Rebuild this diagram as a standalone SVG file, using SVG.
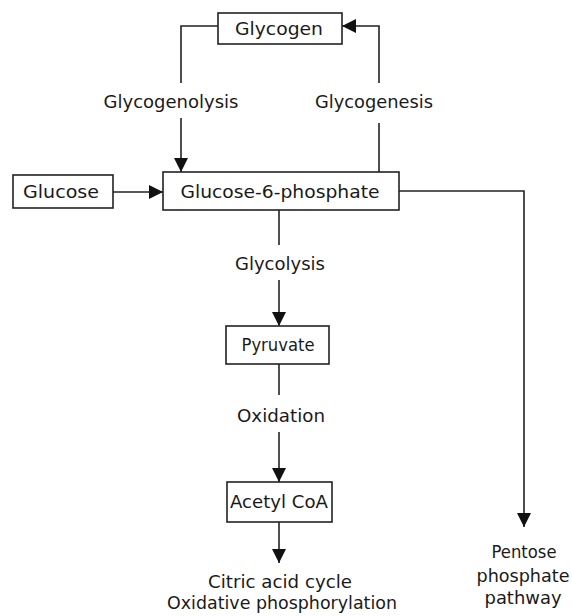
<svg xmlns="http://www.w3.org/2000/svg" width="572" height="616" viewBox="0 0 572 616">
<style>
.box{fill:#fff;stroke:#222;stroke-width:1.6}
.ln{fill:none;stroke:#222;stroke-width:1.6}
text{font-family:"DejaVu Sans","Liberation Sans",sans-serif;font-size:17.5px;fill:#1a1a1a;text-anchor:middle}
</style>
<defs>
<marker id="ah" markerUnits="userSpaceOnUse" markerWidth="14" markerHeight="14" refX="14" refY="7" orient="auto">
<path d="M0,0 L14,7 L0,14 z" fill="#111"/>
</marker>
</defs>
<rect width="572" height="616" fill="#fff"/>
<g id="connectors">
<path class="ln" d="M218,26 H181 V83"/>
<path class="ln" d="M181,118 V172" marker-end="url(#ah)"/>
<path class="ln" d="M379,172 V123"/>
<path class="ln" d="M379,83 V26 H342" marker-end="url(#ah)"/>
<path class="ln" d="M113,192 H163" marker-end="url(#ah)"/>
<path class="ln" d="M399,191 H524 V527" marker-end="url(#ah)"/>
<path class="ln" d="M279,210 V245"/>
<path class="ln" d="M279,280 V326" marker-end="url(#ah)"/>
<path class="ln" d="M279,364 V395"/>
<path class="ln" d="M279,432 V482" marker-end="url(#ah)"/>
<path class="ln" d="M279,522 V563" marker-end="url(#ah)"/>
<text x="171" y="108" textLength="135" lengthAdjust="spacingAndGlyphs">Glycogenolysis</text>
<text x="374" y="108" textLength="118" lengthAdjust="spacingAndGlyphs">Glycogenesis</text>
<text x="280" y="270" textLength="90" lengthAdjust="spacingAndGlyphs">Glycolysis</text>
<text x="281" y="422" textLength="88" lengthAdjust="spacingAndGlyphs">Oxidation</text>
</g>
<g id="glycogen">
<rect class="box" x="218" y="13" width="124" height="31"/>
<text x="279" y="35" textLength="88" lengthAdjust="spacingAndGlyphs">Glycogen</text>
</g>
<g id="glucose">
<rect class="box" x="13" y="175" width="100" height="33"/>
<text x="61" y="198" textLength="76" lengthAdjust="spacingAndGlyphs">Glucose</text>
</g>
<g id="g6p">
<rect class="box" x="163" y="172" width="236" height="38"/>
<text x="280" y="198" textLength="199" lengthAdjust="spacingAndGlyphs">Glucose-6-phosphate</text>
</g>
<g id="pyruvate">
<rect class="box" x="226" y="326" width="103" height="38"/>
<text x="278" y="351" textLength="73" lengthAdjust="spacingAndGlyphs">Pyruvate</text>
</g>
<g id="acetylcoa">
<rect class="box" x="227" y="482" width="105" height="40"/>
<text x="279" y="508" textLength="98" lengthAdjust="spacingAndGlyphs">Acetyl CoA</text>
</g>
<g id="citric">
<text x="280" y="588" textLength="144" lengthAdjust="spacingAndGlyphs">Citric acid cycle</text>
<text x="282" y="609" textLength="230" lengthAdjust="spacingAndGlyphs">Oxidative phosphorylation</text>
</g>
<g id="pentose">
<text x="524" y="558" textLength="65" lengthAdjust="spacingAndGlyphs">Pentose</text>
<text x="523" y="582" textLength="93" lengthAdjust="spacingAndGlyphs">phosphate</text>
<text x="523" y="604" textLength="77" lengthAdjust="spacingAndGlyphs">pathway</text>
</g>
</svg>
